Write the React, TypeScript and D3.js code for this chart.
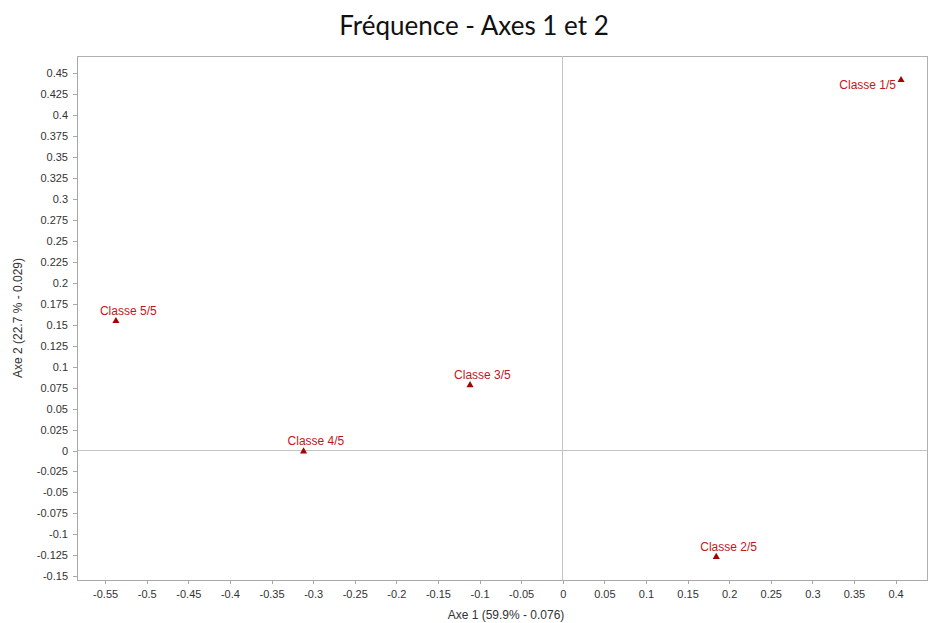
import { useEffect, useRef } from 'react';
import * as d3 from 'd3';

const classes = ['Classe 1/5', 'Classe 2/5', 'Classe 3/5', 'Classe 4/5', 'Classe 5/5'];
const axe1 = [0.4066, 0.1845, -0.1114, -0.3115, -0.537];
const axe2 = [0.442, -0.127, 0.078, -0.001, 0.1545];
const xTicks = [-0.55, -0.5, -0.45, -0.4, -0.35, -0.3, -0.25, -0.2, -0.15, -0.1, -0.05, 0, 0.05, 0.1, 0.15, 0.2, 0.25, 0.3, 0.35, 0.4];
const yTicks = [-0.15, -0.125, -0.1, -0.075, -0.05, -0.025, 0, 0.025, 0.05, 0.075, 0.1, 0.125, 0.15, 0.175, 0.2, 0.225, 0.25, 0.275, 0.3, 0.325, 0.35, 0.375, 0.4, 0.425, 0.45];

export default function App() {
  const svgRef = useRef<SVGSVGElement>(null);

  useEffect(() => {
    if (!svgRef.current) return;
    const svg = d3.select(svgRef.current);
    svg.selectAll('*').remove();

    const width = 928;
    const height = 623;
    const left = 77, right = 927, top = 56, bottom = 580;

    const x = d3.scaleLinear().domain([-0.5838, 0.4378]).range([left, right]);
    const y = d3.scaleLinear().domain([-0.1545, 0.4707]).range([bottom, top]);

    svg.attr('width', width).attr('height', height);

    // titre
    svg.append('text')
      .attr('x', 474)
      .attr('y', 35)
      .attr('text-anchor', 'middle')
      .attr('font-family', 'Lato, "Noto Sans", sans-serif')
      .attr('font-size', 26)
      .attr('fill', '#111')
      .text('Fréquence - Axes 1 et 2');

    // cadre
    svg.append('rect')
      .attr('x', left).attr('y', top)
      .attr('width', right - left).attr('height', bottom - top)
      .attr('fill', 'white')
      .attr('stroke', '#b0b0b0')
      .attr('stroke-width', 1)
      .attr('shape-rendering', 'crispEdges');

    // lignes zéro
    svg.append('line')
      .attr('x1', x(0)).attr('x2', x(0)).attr('y1', top).attr('y2', bottom)
      .attr('stroke', '#c4c4c4').attr('shape-rendering', 'crispEdges');
    svg.append('line')
      .attr('x1', left).attr('x2', right).attr('y1', y(0)).attr('y2', y(0))
      .attr('stroke', '#c4c4c4').attr('shape-rendering', 'crispEdges');

    const fmt = (d: d3.NumberValue) => String(+d);

    const xAxis = svg.append('g')
      .attr('transform', `translate(0,${bottom})`)
      .call(d3.axisBottom(x).tickValues(xTicks).tickFormat(fmt).tickSizeOuter(0).tickSizeInner(4).tickPadding(6));
    const yAxis = svg.append('g')
      .attr('transform', `translate(${left},0)`)
      .call(d3.axisLeft(y).tickValues(yTicks).tickFormat(fmt).tickSizeOuter(0).tickSizeInner(4).tickPadding(5));

    [xAxis, yAxis].forEach(a => {
      a.select('.domain').attr('stroke', '#a8a8a8').attr('shape-rendering', 'crispEdges');
      a.selectAll('.tick line').attr('stroke', '#a8a8a8').attr('shape-rendering', 'crispEdges');
      a.selectAll('.tick text')
        .attr('fill', '#333')
        .attr('font-family', '"Liberation Sans", Arial, sans-serif')
        .attr('font-size', 11);
    });

    // titres des axes
    svg.append('text')
      .attr('x', 506)
      .attr('y', 619)
      .attr('text-anchor', 'middle')
      .attr('font-family', '"Liberation Sans", Arial, sans-serif')
      .attr('font-size', 12)
      .attr('fill', '#333')
      .text('Axe 1 (59.9% - 0.076)');

    svg.append('text')
      .attr('transform', `translate(22,${(top + bottom) / 2}) rotate(-90)`)
      .attr('text-anchor', 'middle')
      .attr('font-family', '"Liberation Sans", Arial, sans-serif')
      .attr('font-size', 12)
      .attr('fill', '#333')
      .text('Axe 2 (22.7 % - 0.029)');

    // points
    const data = classes.map((c, i) => ({ label: c, a1: axe1[i], a2: axe2[i] }));
    const tri = d3.symbol().type(d3.symbolTriangle).size(22);
    const nearRight = (d: { a1: number }) => x(d.a1) > right - 70;

    svg.selectAll('.pt')
      .data(data)
      .enter()
      .append('path')
      .attr('class', 'pt')
      .attr('d', tri)
      .attr('transform', d => `translate(${x(d.a1)},${y(d.a2)})`)
      .attr('fill', '#a80000');

    svg.selectAll('.lbl')
      .data(data)
      .enter()
      .append('text')
      .attr('class', 'lbl')
      .attr('x', d => (nearRight(d) ? x(d.a1) - 5 : x(d.a1) - 16))
      .attr('y', d => (nearRight(d) ? y(d.a2) + 9 : y(d.a2) - 6))
      .attr('text-anchor', d => (nearRight(d) ? 'end' : 'start'))
      .attr('font-family', '"Liberation Sans", Arial, sans-serif')
      .attr('font-size', 12)
      .attr('fill', '#c01818')
      .text(d => d.label);
  }, []);

  return (
    <svg ref={svgRef} style={{ position: 'absolute', left: 0, top: 0, background: 'white' }}></svg>
  );
}
